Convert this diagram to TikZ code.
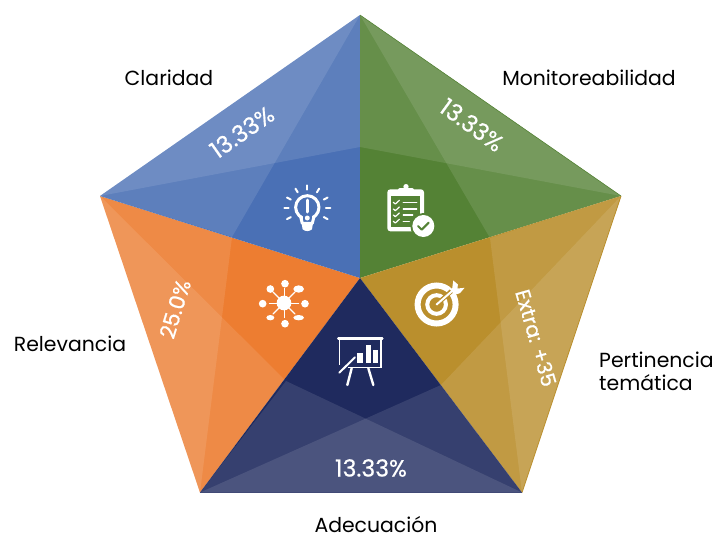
\documentclass[tikz,border=0pt]{standalone}
\usepackage{fontspec}
\setmainfont{Poppins}
\newfontfamily\pctfont[FakeBold=0.6]{Poppins}
\usetikzlibrary{calc}
\definecolor{blueSec}{HTML}{4A70B5}
\definecolor{greenSec}{HTML}{548235}
\definecolor{orangeSec}{HTML}{ED7D31}
\definecolor{goldSec}{HTML}{BA8F2D}
\definecolor{navySec}{HTML}{1F2A5E}
\tikzset{
	facet/.style={white, fill opacity=0.105},
	outlabel/.style={black, font=\fontsize{20.4}{23}\selectfont, align=left, inner sep=0pt},
	pctlabel/.style={white, font=\pctfont\fontsize{23.5}{26}\selectfont, inner sep=0pt},
	iconline/.style={white, line cap=round, line join=round}
}
\newcommand{\sector}[5] % colour, outer corner, outer corner, inner point, inner point
{
	\fill[#1] (ctr) -- (#2) -- (#3) -- cycle;
	% two overlapping facets
	\fill[facet] (#2) -- (#3) -- (#5) -- cycle;
	\fill[facet] (#2) -- (#3) -- (#4) -- cycle;
}
\newcommand{\iconbulb}[2] % x, y
{
	\begin{scope}[shift={(#1,#2)}, scale=1/3]
		\draw[iconline, line width=3pt] (0,-8) circle (35);
		\fill[blueSec] (-14,18) rectangle (14,34);
		\draw[iconline, line width=3pt] (-20,20) -- (-15,40) -- (15,40) -- (20,20);
		\fill[white] (-17,40) -- (17,40) -- (14,58) to[bend left=40] (-14,58) -- cycle;
		\draw[iconline, line width=3pt] (0,-30) -- (0,6);
		\fill[white] (0,24) circle (7.5);
		\foreach \ang in {-208,-180,-152,-121,-90,-59,-28,0,28}
			\draw[iconline, line width=2pt] ({\ang}:56) ++(0,-5) -- ++({\ang}:13);
	\end{scope}
}
\newcommand{\iconclip}[2] % x, y
{
	\begin{scope}[shift={(#1,#2)}, scale=1/3]
		\fill[white, rounded corners=3pt] (-68,-62) rectangle (42,64);
		\fill[greenSec] (-56,-42) rectangle (30,52);
		\fill[white, rounded corners=2pt] (-36,-66) rectangle (12,-48);
		\fill[white] (-12,-70) circle (8);
		\foreach \yy/\xx in {-23/20,-3/20,15/8,34/-2} {
			\draw[iconline, line width=1.2pt] (-50,\yy) -- (-44,{\yy+5}) -- (-32,{\yy-6});
			\draw[iconline, line width=1.4pt] (-20,\yy) -- (\xx,\yy);
		}
		\fill[greenSec] (40,48) circle (39);
		\fill[white] (40,48) circle (33);
		\draw[greenSec, line cap=round, line join=round, line width=2pt] (24,48) -- (35,59) -- (56,38);
	\end{scope}
}
\newcommand{\icontarget}[2] % x, y
{
	\begin{scope}[shift={(#1,#2)}, scale=1/3]
		\draw[white, line width=6pt] (0,0) circle (57);
		\draw[white, line width=4pt] (0,0) circle (28);
		\draw[goldSec, line width=4.5pt] (0,0) -- (44,-40);
		\draw[iconline, line width=2pt] (0,0) -- (60,-52);
		\fill[white] (46,-42) -- (50,-72) -- (64,-60) -- (62,-48) -- (84,-50) -- (70,-34) -- (58,-30) -- cycle;
	\end{scope}
}
\newcommand{\iconnet}[2] % x, y
{
	\begin{scope}[shift={(#1,#2)}, scale=1/3]
		\fill[white] (0,0) circle (22);
		\foreach \ang in {-90,0,90,180}
			\draw[iconline, line width=1pt] (0,0) -- (\ang:44);
		\foreach \ang in {-135,-45,45,135}
			\draw[iconline, line width=1.2pt] (0,0) -- (\ang:46);
		\fill[white] (3,-58) circle (11.5);
		\fill[white] (63,2) circle (11.5);
		\fill[white] (3,62) circle (11.5);
		\fill[white] (-64,2) circle (11.5);
		\fill[white] (-41,-42) circle (11.5);
		\fill[white] (44,-42) ellipse (16 and 11);
		\fill[white] (-41,44) ellipse (12 and 8);
		\fill[white] (44,44) ellipse (16 and 8);
	\end{scope}
}
\newcommand{\iconboard}[2] % x, y
{
	\begin{scope}[shift={(#1,#2)}, scale=1/3]
		\draw[iconline, line width=2.6pt] (-65,-65) -- (67,-65);
		\draw[white, line width=1.2pt] (-61,-65) -- (-61,16);
		\draw[white, line width=1.2pt] (63,-65) -- (63,23) -- (-36,23);
		\fill[white] (-8,-22) rectangle (8,10);
		\fill[white] (17,-45) rectangle (33,10);
		\fill[white] (39,-30) rectangle (55,10);
		\draw[iconline, line width=2pt] (-62,38) -- (-15,-8);
		\draw[iconline, line width=2.4pt] (-25,25) -- (-38,75);
		\draw[iconline, line width=2.4pt] (25,25) -- (40,75);
	\end{scope}
}

\begin{document}
\begin{tikzpicture}[x=1pt, y=-1pt]
	\useasboundingbox (0,0) rectangle (713,533);
	% corners of the pentagon
	\coordinate (ctr) at (360,278);
	\coordinate (top) at (360,15);
	\coordinate (rgt) at (621,196);
	\coordinate (brt) at (522,492.5);
	\coordinate (blf) at (200,492.5);
	\coordinate (lft) at (100,196);
	% inner points of the facets
	\coordinate (midtop) at (360,147);
	\coordinate (midrgt) at (490,238);
	\coordinate (midbrt) at (441,385);
	\coordinate (midblf) at (286,381);
	\coordinate (midlft) at (232,237);

	\sector{orangeSec}{blf}{lft}{midblf}{midlft};
	\sector{blueSec}{lft}{top}{midlft}{midtop};
	\sector{greenSec}{top}{rgt}{midtop}{midrgt};
	\sector{goldSec}{rgt}{brt}{midrgt}{midbrt};
	\sector{navySec}{brt}{blf}{midbrt}{midblf};
	\draw[goldSec, line width=0.8pt] (rgt) -- (brt);
	\draw[greenSec, line width=0.6pt] (top) -- (rgt);
	\draw[navySec!85!white, line width=1pt] (blf) -- (brt);

	\iconbulb{307.3}{210};
	\iconclip{410}{210};
	\icontarget{436.6}{304.5};
	\iconnet{284}{303};
	\iconboard{360}{360};

	\node[pctlabel, rotate=35] (pctclar) at (242,132) {13.33\%};
	\node[pctlabel, rotate=-36] (pctmoni) at (472,125) {13.33\%};
	\node[pctlabel, rotate=73, font=\pctfont\fontsize{21.5}{24}\selectfont] (pctrele) at (175,309) {25.0\%};
	\node[pctlabel, rotate=-74, font=\pctfont\fontsize{20.5}{24}\selectfont] (pctpert) at (536,338) {Extra: +35};
	\node[pctlabel] (pctadec) at (371,468) {13.33\%};

	\node[outlabel] (clar) at (169,78) {Claridad};
	\node[outlabel] (moni) at (589,78) {Monitoreabilidad};
	\node[outlabel] (rele) at (70,344) {Relevancia};
	\node[outlabel, anchor=west] (pert) at (599,371) {Pertinencia\\temática};
	\node[outlabel, anchor=base] (adec) at (376,532) {Adecuación};
\end{tikzpicture}
\end{document}
